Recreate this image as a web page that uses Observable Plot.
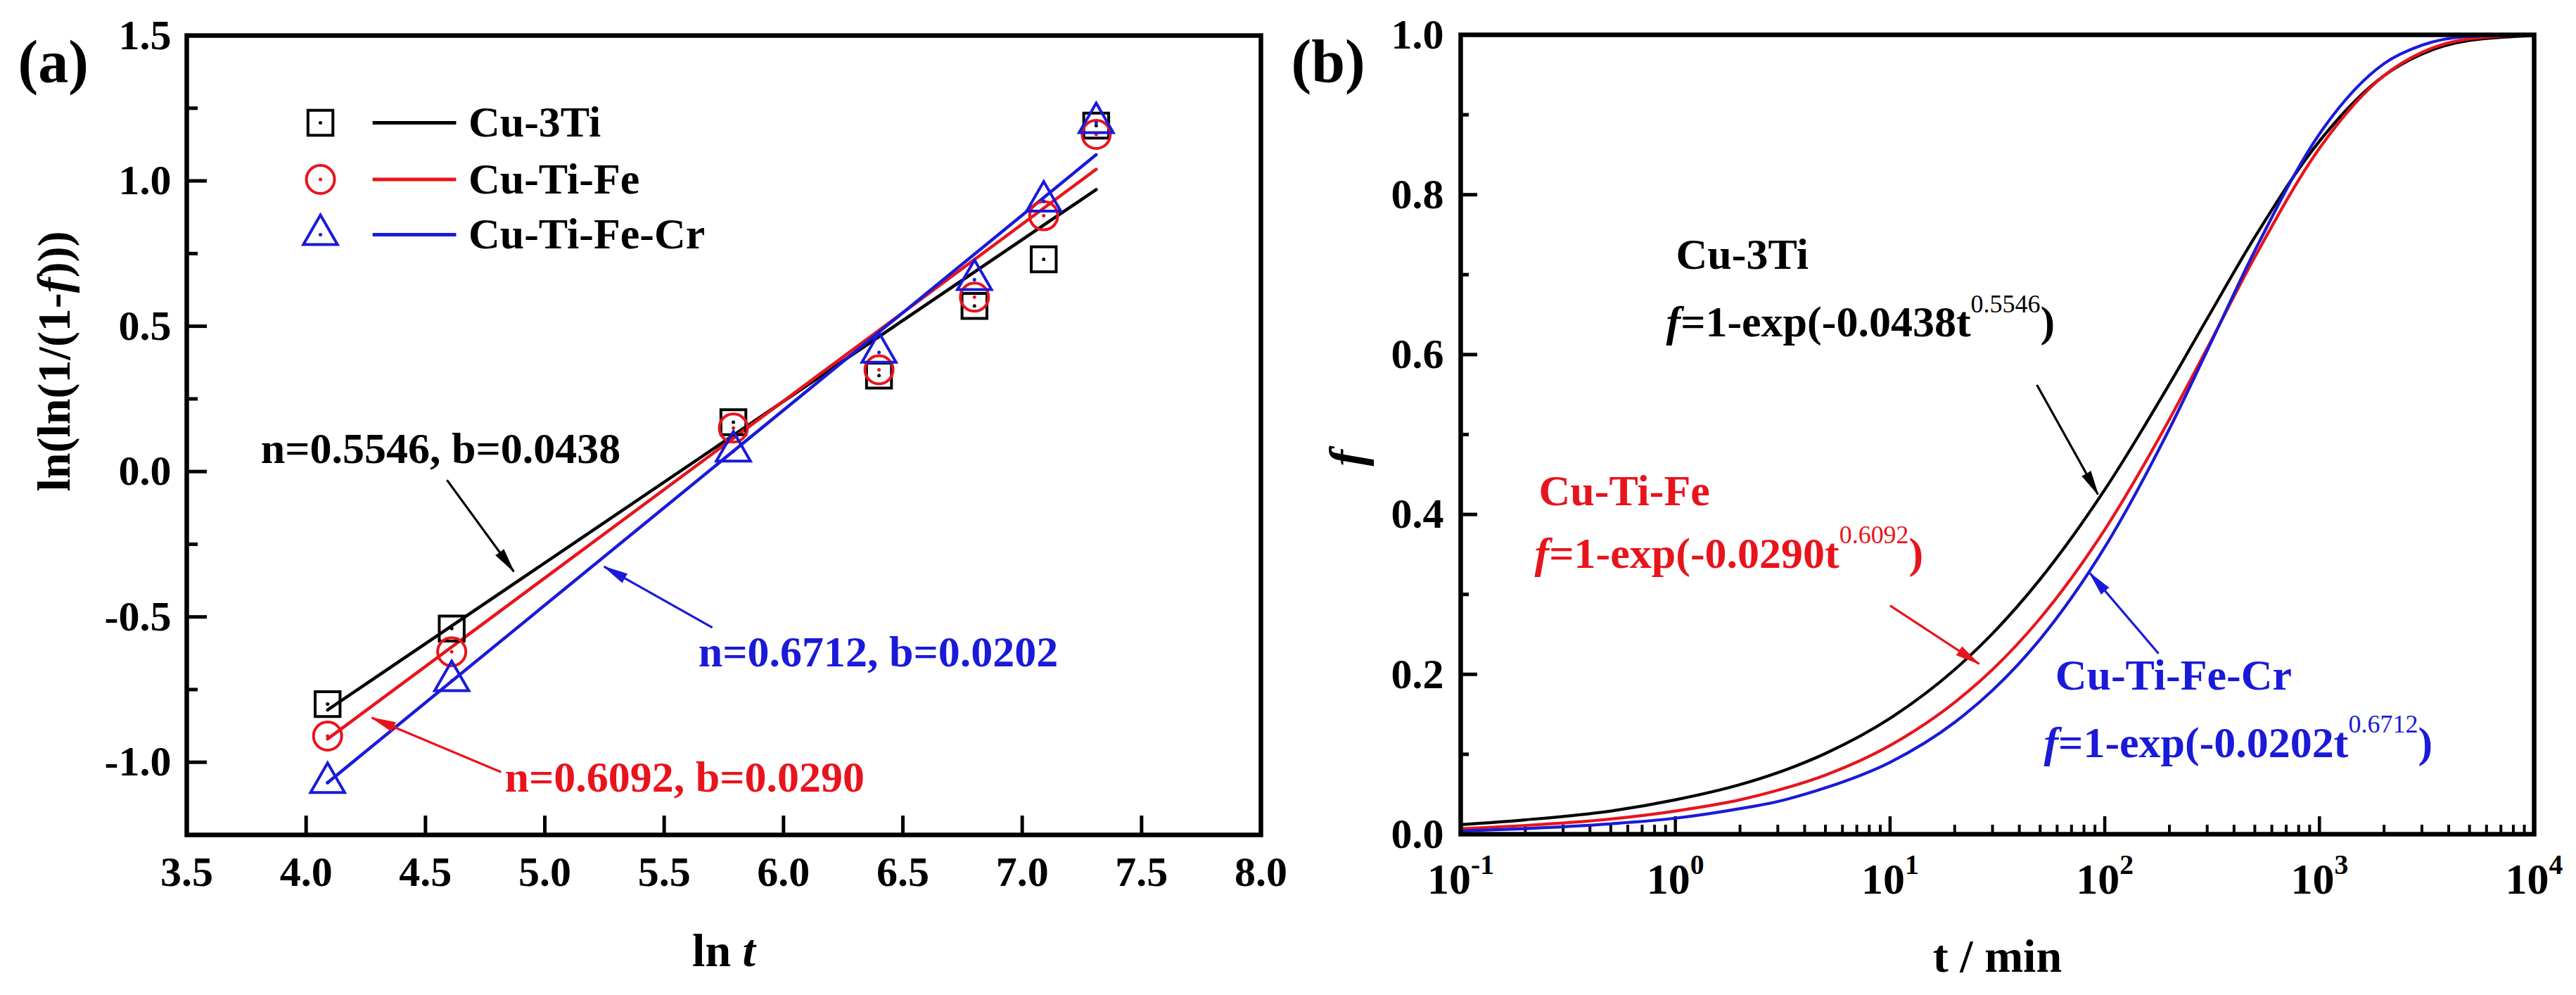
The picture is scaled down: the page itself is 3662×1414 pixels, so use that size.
<!DOCTYPE html>
<html>
<head>
<meta charset="utf-8">
<script src="https://cdn.jsdelivr.net/npm/d3@7"></script>
<script src="https://cdn.jsdelivr.net/npm/@observablehq/plot@0.6"></script>
<style>
  html, body { margin: 0; padding: 0; background: #fff; }
  #wrap { position: relative; width: 3662px; height: 1414px; overflow: hidden; background: #fff; }
  #wrap > svg { position: absolute; top: 0; max-width: none !important; }
</style>
</head>
<body>
<div id="wrap"></div>
<script>
// ---------------- DATA ----------------
const alloys = ["Cu-3Ti", "Cu-Ti-Fe", "Cu-Ti-Fe-Cr"];
const seriesColors = ["#000000", "#e8141c", "#1a1ad8"];

// Panel (a): ln t vs ln(ln(1/(1-f)))
const lnT = [4.09, 4.61, 5.79, 6.40, 6.80, 7.09, 7.31];
const lnlnCu3Ti = [-0.80, -0.54, 0.17, 0.33, 0.57, 0.73, 1.19];
const lnlnCuTiFe = [-0.91, -0.62, 0.15, 0.35, 0.60, 0.88, 1.16];
const lnlnCuTiFeCr = [-1.07, -0.72, 0.07, 0.41, 0.66, 0.93, 1.20];
// fitted straight lines (end points)
const fitX = [4.09, 7.31];
const fitCu3Ti = [-0.82, 0.97];
const fitCuTiFe = [-0.92, 1.04];
const fitCuTiFeCr = [-1.07, 1.09];
const fitLabelsA = ["n=0.5546, b=0.0438", "n=0.6092, b=0.0290", "n=0.6712, b=0.0202"];
const fitLabelXA = [3.81, 4.832, 5.643];
const fitLabelYA = [0.077, -1.053, -0.622];
const arrowA_x1 = [4.590, 4.817, 5.702];
const arrowA_y1 = [-0.029, -1.034, -0.537];
const arrowA_x2 = [4.870, 4.275, 5.248];
const arrowA_y2 = [-0.344, -0.847, -0.327];
const xTicksA = [3.5, 4.0, 4.5, 5.0, 5.5, 6.0, 6.5, 7.0, 7.5, 8.0];
const yTicksA = [-1.0, -0.5, 0.0, 0.5, 1.0, 1.5];
const yMinorA = [-0.75, -0.25, 0.25, 0.75, 1.25];

// Panel (b): f vs t (min)
const tMin = [0.1, 0.2, 0.5, 1, 2, 3, 5, 10, 20, 30, 50, 100, 200, 300, 500, 1000, 2000, 3000, 5000, 10000];
const fCu3Ti = [0.012, 0.018, 0.029, 0.043, 0.062, 0.077, 0.101, 0.145, 0.206, 0.251, 0.319, 0.431, 0.563, 0.645, 0.747, 0.867, 0.949, 0.976, 0.993, 0.999];
const fCuTiFe = [0.007, 0.011, 0.019, 0.029, 0.043, 0.055, 0.074, 0.111, 0.165, 0.206, 0.270, 0.381, 0.519, 0.608, 0.722, 0.858, 0.949, 0.978, 0.995, 1.000];
const fCuTiFeCr = [0.004, 0.007, 0.013, 0.020, 0.032, 0.041, 0.058, 0.090, 0.140, 0.180, 0.244, 0.359, 0.507, 0.605, 0.730, 0.876, 0.964, 0.987, 0.998, 1.000];
const eqLabelsB = ["{i:f}=1-exp(-0.0438t{s:0.5546})", "{i:f}=1-exp(-0.0290t{s:0.6092})", "{i:f}=1-exp(-0.0202t{s:0.6712})"];
const nameXB = [1.006, 0.231, 58.8];
const nameYB = [0.725, 0.429, 0.198];
const eqXB = [0.905, 0.221, 52];
const eqYB = [0.640, 0.351, 0.114];
const arrowB_x1 = [48.3, 10, 178];
const arrowB_y1 = [0.562, 0.286, 0.226];
const arrowB_x2 = [93, 26, 85];
const arrowB_y2 = [0.425, 0.213, 0.327];
const xTicksB = [0.1, 1, 10, 100, 1000, 10000];
const yTicksB = [0.0, 0.2, 0.4, 0.6, 0.8, 1.0];
const yMinorB = [0.1, 0.3, 0.5, 0.7, 0.9];

// ---------------- LAYOUT ----------------
const FONT = "'Liberation Serif', 'Times New Roman', serif";
const H = 1414, WA = 1830, WB = 1832;
const mA = {left: 265, right: 38, top: 50, bottom: 228};
const mB = {left: 246, right: 60, top: 49, bottom: 229};
const pwA = WA - mA.left - mA.right, phA = H - mA.top - mA.bottom;
const pwB = WB - mB.left - mB.right, phB = H - mB.top - mB.bottom;
const xMinorB = [];
for (const d of [0.1, 1, 10, 100, 1000]) for (let m = 2; m <= 9; m++) xMinorB.push(d * m);

const symbols = ["square", "circle", "triangle"];
const radii = [20, 20, 18];

function arrowMarks(fig, x1s, y1s, x2s, y2s) {
  const marks = [];
  for (let k = 0; k < 3; k++) {
    const d = {x1: x1s[k], y1: y1s[k], x2: x2s[k], y2: y2s[k]};
    marks.push(Plot.link([d], {x1: "x1", y1: "y1", x2: "x2", y2: "y2", stroke: seriesColors[k], strokeWidth: 3.2}));
    if (fig) {
      const sx = fig.scale("x"), sy = fig.scale("y");
      const ang = Math.atan2(sx.apply(d.x2) - sx.apply(d.x1), -(sy.apply(d.y2) - sy.apply(d.y1))) * 180 / Math.PI;
      marks.push(Plot.vector([d], {x: "x2", y: "y2", rotate: ang, length: 34, r: 7, anchor: "end", shape: "spike",
        fill: seriesColors[k], stroke: seriesColors[k], strokeWidth: 1}));
    }
  }
  return marks;
}

const txt = {fontSize: 62, fontWeight: "bold", textAnchor: "start", lineAnchor: "middle"};

function buildA(fig) {
  const seriesA = [lnlnCu3Ti, lnlnCuTiFe, lnlnCuTiFeCr];
  const fitsA = [fitCu3Ti, fitCuTiFe, fitCuTiFeCr];
  const legY = [1.20, 1.005, 0.815];
  const marks = [
    Plot.tickX(xTicksA, {x: d => d, insetTop: phA - 27, strokeWidth: 5}),
    Plot.tickY(yTicksA, {y: d => d, insetRight: pwA - 29, strokeWidth: 5}),
    Plot.tickY(yMinorA, {y: d => d, insetRight: pwA - 16, strokeWidth: 5}),
    Plot.axisX(xTicksA, {tickSize: 0, tickPadding: 30, tickFormat: d => d.toFixed(1), fontSize: 60, fontWeight: "bold", label: null}),
    Plot.axisY(yTicksA, {tickSize: 0, tickPadding: 22, tickFormat: d => d.toFixed(1), fontSize: 60, fontWeight: "bold", label: null}),
    Plot.text(["ln(ln(1/(1-{i:f})))"], {frameAnchor: "left", text: d => d, rotate: -90, dx: -188, dy: 80, fontSize: 66, fontWeight: "bold"}),
    Plot.text(["ln {i:t}"], {frameAnchor: "bottom", text: d => d, dy: 165, fontSize: 66, fontWeight: "bold", lineAnchor: "middle"}),
    Plot.text(["(a)"], {frameAnchor: "top-left", text: d => d, dx: -240, dy: 5, textAnchor: "start", lineAnchor: "top", fontSize: 86, fontWeight: "bold"})
  ];
  for (let k = 0; k < 3; k++) {
    marks.push(Plot.line(fitX.map((x, i) => ({x, y: fitsA[k][i]})), {x: "x", y: "y", stroke: seriesColors[k], strokeWidth: 4.5}));
  }
  for (let k = 0; k < 3; k++) {
    const pts = lnT.map((x, i) => ({x, y: seriesA[k][i]}));
    marks.push(Plot.dot(pts, {x: "x", y: "y", symbol: symbols[k], r: radii[k], stroke: seriesColors[k], strokeWidth: 4, fill: "none"}));
    marks.push(Plot.dot(pts, {x: "x", y: "y", r: 2.5, fill: seriesColors[k], stroke: "none"}));
    // legend entry
    marks.push(Plot.dot([legY[k]], {x: 4.06, y: d => d, symbol: symbols[k], r: radii[k], stroke: seriesColors[k], strokeWidth: 4, fill: "none"}));
    marks.push(Plot.dot([legY[k]], {x: 4.06, y: d => d, r: 2.5, fill: seriesColors[k], stroke: "none"}));
    marks.push(Plot.ruleY([legY[k]], {y: d => d, x1: 4.28, x2: 4.63, stroke: seriesColors[k], strokeWidth: 5}));
    marks.push(Plot.text([alloys[k]], {x: 4.68, y: legY[k], text: d => d, ...txt, fill: "black"}));
    // fit annotation
    marks.push(Plot.text([fitLabelsA[k]], {x: fitLabelXA[k], y: fitLabelYA[k], text: d => d, ...txt, fill: seriesColors[k]}));
  }
  marks.push(...arrowMarks(fig, arrowA_x1, arrowA_y1, arrowA_x2, arrowA_y2));
  marks.push(Plot.frame({strokeWidth: 6.5}));
  return Plot.plot({
    width: WA, height: H,
    marginLeft: mA.left, marginRight: mA.right, marginTop: mA.top, marginBottom: mA.bottom,
    x: {domain: [3.5, 8.0]},
    y: {domain: [-1.25, 1.5]},
    style: {fontFamily: FONT, background: "transparent", overflow: "visible"},
    marks
  });
}

function buildB(fig) {
  const seriesB = [fCu3Ti, fCuTiFe, fCuTiFeCr];
  const marks = [
    Plot.tickX(xTicksB, {x: d => d, insetTop: phB - 25, strokeWidth: 4.5}),
    Plot.tickX(xMinorB, {x: d => d, insetTop: phB - 13, strokeWidth: 4}),
    Plot.tickY(yTicksB, {y: d => d, insetRight: pwB - 24, strokeWidth: 5}),
    Plot.tickY(yMinorB, {y: d => d, insetRight: pwB - 12, strokeWidth: 5}),
    Plot.axisX(xTicksB, {tickSize: 0, tickPadding: 40, tickFormat: d => `10{S:${Math.round(Math.log10(d))}}`, fontSize: 62, fontWeight: "bold", label: null}),
    Plot.axisY(yTicksB, {tickSize: 0, tickPadding: 24, tickFormat: d => d.toFixed(1), fontSize: 60, fontWeight: "bold", label: null}),
    Plot.text(["f"], {frameAnchor: "left", text: d => d, rotate: -90, dx: -161, dy: 45, fontSize: 70, fontWeight: "bold", fontStyle: "italic"}),
    Plot.text(["t / min"], {frameAnchor: "bottom", text: d => d, dy: 174, fontSize: 66, fontWeight: "bold", lineAnchor: "middle"}),
    Plot.text(["(b)"], {frameAnchor: "top-left", text: d => d, dx: -241, dy: 5, textAnchor: "start", lineAnchor: "top", fontSize: 86, fontWeight: "bold"})
  ];
  for (let k = 0; k < 3; k++) {
    const pts = tMin.map((t, i) => ({t, f: seriesB[k][i]}));
    marks.push(Plot.line(pts, {x: "t", y: "f", stroke: seriesColors[k], strokeWidth: 4.2, curve: "monotone-x"}));
  }
  for (let k = 0; k < 3; k++) {
    marks.push(Plot.text([alloys[k]], {x: nameXB[k], y: nameYB[k], text: d => d, ...txt, fill: seriesColors[k]}));
    marks.push(Plot.text([eqLabelsB[k]], {x: eqXB[k], y: eqYB[k], text: d => d, ...txt, fill: seriesColors[k]}));
  }
  marks.push(...arrowMarks(fig, arrowB_x1, arrowB_y1, arrowB_x2, arrowB_y2));
  marks.push(Plot.frame({strokeWidth: 6.5}));
  return Plot.plot({
    width: WB, height: H,
    marginLeft: mB.left, marginRight: mB.right, marginTop: mB.top, marginBottom: mB.bottom,
    x: {type: "log", domain: [0.1, 10000]},
    y: {domain: [0, 1]},
    style: {fontFamily: FONT, background: "transparent", overflow: "visible"},
    marks
  });
}

// rich text: {i:..} italic, {s:..} superscript (normal), {S:..} superscript (bold)
function richify(root) {
  root.querySelectorAll("text").forEach(t => {
    const s = t.textContent;
    if (!/\{[isS]:/.test(s)) return;
    const fs = parseFloat(getComputedStyle(t).fontSize) || 60;
    const parts = s.split(/(\{[isS]:[^}]*\})/).filter(p => p.length);
    while (t.firstChild) t.removeChild(t.firstChild);
    let pending = 0;
    for (const p of parts) {
      const m = /^\{([isS]):([^}]*)\}$/.exec(p);
      const ts = document.createElementNS("http://www.w3.org/2000/svg", "tspan");
      if (m && m[1] !== "i") {
        const big = m[1] === "S";
        const raise = fs * (big ? 0.45 : 0.56);
        ts.setAttribute("font-size", fs * (big ? 0.64 : 0.58));
        if (!big) ts.setAttribute("font-weight", "normal");
        ts.setAttribute("font-style", "normal");
        ts.setAttribute("dy", pending - raise);
        pending = raise;
        ts.textContent = m[2];
      } else {
        if (m) ts.setAttribute("font-style", "italic");
        if (pending) { ts.setAttribute("dy", pending); pending = 0; }
        ts.textContent = m ? m[2] : p;
      }
      t.appendChild(ts);
    }
  });
}

const wrap = document.getElementById("wrap");
const svgA = buildA(buildA(null));
const svgB = buildB(buildB(null));
svgA.style.left = "0px";
svgB.style.left = WA + "px";
wrap.appendChild(svgA);
wrap.appendChild(svgB);
richify(svgA);
richify(svgB);
</script>
</body>
</html>
